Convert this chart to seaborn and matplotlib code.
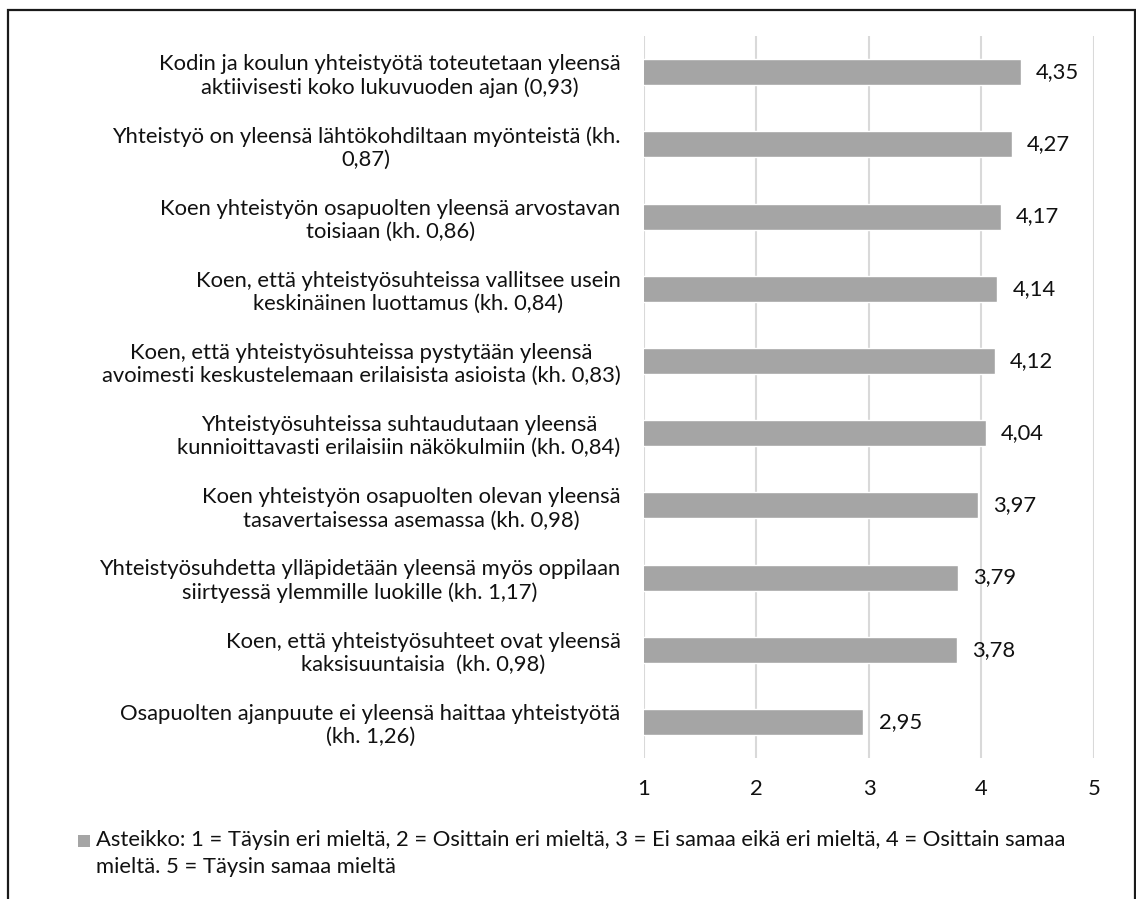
import matplotlib
matplotlib.use("Agg")
import matplotlib.pyplot as plt
from matplotlib.patches import Rectangle
import seaborn as sns
import pandas as pd

statements = [
    "Kodin ja koulun yhteistyötä toteutetaan yleensä\naktiivisesti koko lukuvuoden ajan (0,93)",
    "Yhteistyö on yleensä lähtökohdiltaan myönteistä (kh.\n0,87)",
    "Koen yhteistyön osapuolten yleensä arvostavan\ntoisiaan (kh. 0,86)",
    "Koen, että yhteistyösuhteissa vallitsee usein\nkeskinäinen luottamus (kh. 0,84)",
    "Koen, että yhteistyösuhteissa pystytään yleensä\navoimesti keskustelemaan erilaisista asioista (kh. 0,83)",
    "Yhteistyösuhteissa suhtaudutaan yleensä\nkunnioittavasti erilaisiin näkökulmiin (kh. 0,84)",
    "Koen yhteistyön osapuolten olevan yleensä\ntasavertaisessa asemassa (kh. 0,98)",
    "Yhteistyösuhdetta ylläpidetään yleensä myös oppilaan\nsiirtyessä ylemmille luokille (kh. 1,17)",
    "Koen, että yhteistyösuhteet ovat yleensä\nkaksisuuntaisia  (kh. 0,98)",
    "Osapuolten ajanpuute ei yleensä haittaa yhteistyötä\n(kh. 1,26)",
]
means = [4.35, 4.27, 4.17, 4.14, 4.12, 4.04, 3.97, 3.79, 3.78, 2.95]
x_ticks = [1, 2, 3, 4, 5]
legend_lines = [
    "Asteikko: 1 = Täysin eri mieltä, 2 = Osittain eri mieltä, 3 = Ei samaa eikä eri mieltä, 4 = Osittain samaa",
    "mieltä. 5 = Täysin samaa mieltä",
]

BAR = "#A5A5A5"
GRID = "#D9D9D9"
TEXT = "#111111"
FS = 15.8

sns.set_theme(style="white")
plt.rcParams["font.family"] = ["Lato", "DejaVu Sans"]

df = pd.DataFrame({"statement": statements, "mean": means})

fig = plt.figure(figsize=(11.36, 8.99), dpi=100)
ax = fig.add_axes([0.5669, 0.1568, 0.3961, 0.8031])

sns.barplot(data=df, x="mean", y="statement", orient="h", color=BAR,
            saturation=1, width=0.36, ax=ax, zorder=3)

ax.set_xlim(1, 5)
ax.set_xticks(x_ticks)
ax.set_xticklabels([str(t) for t in x_ticks])
ax.xaxis.grid(True, color=GRID, linewidth=1.5, zorder=0)
ax.set_axisbelow(True)
for s in ax.spines.values():
    s.set_visible(False)
ax.set_xlabel("")
ax.set_ylabel("")
ax.tick_params(axis="both", length=0, colors=TEXT, labelsize=FS)
ax.tick_params(axis="y", pad=17)
ax.tick_params(axis="x", pad=15)
for t in ax.get_yticklabels():
    t.set_multialignment("center")
    t.set_linespacing(1.2)

ax.bar_label(ax.containers[0], labels=[f"{v:.2f}".replace(".", ",") for v in means],
             padding=11, fontsize=FS, color=TEXT)

# legend-style note under the chart
fig.patches.append(Rectangle((78 / 1136, 1 - 847 / 899), 12 / 1136, 12 / 899,
                             transform=fig.transFigure, facecolor=BAR,
                             edgecolor="none"))
fig.text(96 / 1136, 1 - 840 / 899, legend_lines[0], fontsize=FS, color=TEXT,
         ha="left", va="center")
fig.text(96 / 1136, 1 - 867 / 899, legend_lines[1], fontsize=FS, color=TEXT,
         ha="left", va="center")

# chart frame
fig.patches.append(Rectangle((8 / 1136, -0.05), 1127 / 1136, 1.05 - 10 / 899,
                             transform=fig.transFigure, facecolor="none",
                             edgecolor="#1a1a1a", linewidth=1.6))

fig.savefig("out.png", dpi=100)
